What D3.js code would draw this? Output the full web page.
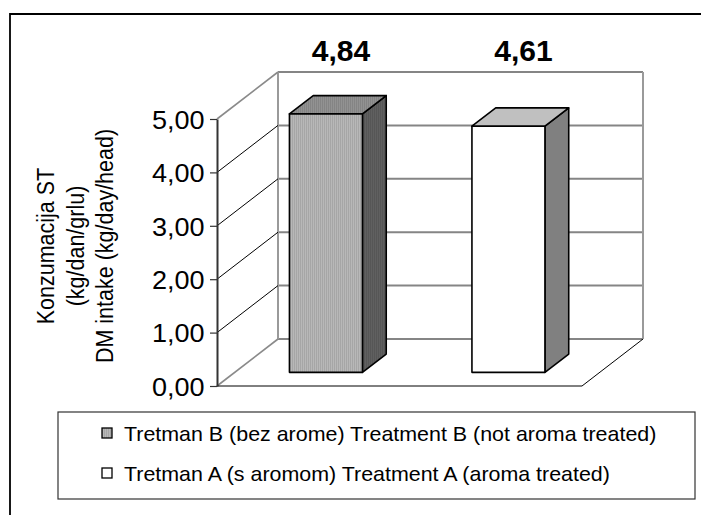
<!DOCTYPE html>
<html>
<head>
<meta charset="utf-8">
<script src="https://cdn.jsdelivr.net/npm/d3@7"></script>
<style>
  body { margin: 0; background: #fff; }
  svg { display: block; font-family: "Liberation Sans", Arial, sans-serif; }
</style>
</head>
<body>
<div id="chart"></div>
<script>
(function () {
  "use strict";

  // ── Datos ──────────────────────────────────────────────
  const categories = ["Tretman B (bez arome) Treatment B (not aroma treated)", "Tretman A (s aromom) Treatment A (aroma treated)"];
  const values = [4.84, 4.61];
  const yTicks = [0, 1, 2, 3, 4, 5];
  const yTitle = ["Konzumacija ST", "(kg/dan/grlu)", "DM intake (kg/day/head)"];

  // ── Configuración ──────────────────────────────────────
  const width = 701;
  const height = 515;
  const FRONT = { left: 217, right: 582, bottom: 386, top: 119 };
  const DEPTH = { dx: 61, dy: -47 }; // desplazamiento del plano trasero
  const BAR_Z = [0.29, 0.68];
  const STRETCH = 1.04; // el original tiene el texto algo ensanchado

  const fmt = d3.formatLocale({ decimal: ",", thousands: ".", grouping: [3], currency: ["", ""] }).format(".2f");

  const svg = d3.select("#chart").append("svg").attr("width", width).attr("height", height);

  const defs = svg.append("defs");
  const stripes = (id, base, dark) => {
    const p = defs.append("pattern").attr("id", id).attr("width", 2).attr("height", 4).attr("patternUnits", "userSpaceOnUse");
    p.append("rect").attr("width", 2).attr("height", 4).attr("fill", base);
    p.append("rect").attr("width", 1).attr("height", 4).attr("fill", dark);
  };
  stripes("stripes", "#b8b8b8", "#a6a6a6");
  stripes("stripes-top", "#929292", "#848484");
  stripes("stripes-side", "#606060", "#565656");

  const barStyles = [
    { front: "url(#stripes)", top: "url(#stripes-top)", side: "url(#stripes-side)" },
    { front: "#ffffff", top: "#c0c0c0", side: "#808080" },
  ];

  // Escalas
  const y = d3.scaleLinear().domain([0, 5]).range([FRONT.bottom, FRONT.top]);
  const x = d3.scaleBand().domain(categories).range([FRONT.left, FRONT.right]).paddingInner(0.6).paddingOuter(0.3);

  // proyección oblicua: x frontal, valor, profundidad z (0 = frente, 1 = fondo)
  const P = (px, v, z) => [px + z * DEPTH.dx, y(v) + z * DEPTH.dy];
  const poly = (pts) => "M" + pts.map((p) => p.join(",")).join("L") + "Z";

  // Marco exterior
  svg.append("path").attr("d", `M10,${height + 5}V14H${width + 5}`).attr("fill", "none").attr("stroke", "#000").attr("stroke-width", 1.8);

  // ── Paredes y rejilla ─────────────────────────────────
  const gGrid = svg.append("g");

  // pared del fondo
  gGrid
    .selectAll(".back")
    .data(yTicks)
    .join("line")
    .attr("x1", (d) => P(FRONT.left, d, 1)[0])
    .attr("y1", (d) => P(FRONT.left, d, 1)[1])
    .attr("x2", (d) => P(FRONT.right, d, 1)[0])
    .attr("y2", (d) => P(FRONT.right, d, 1)[1])
    .attr("stroke", "#858585")
    .attr("stroke-width", 2);

  [FRONT.left, FRONT.right].forEach((px) => {
    gGrid
      .append("line")
      .attr("x1", P(px, 0, 1)[0])
      .attr("y1", P(px, 0, 1)[1])
      .attr("x2", P(px, 5, 1)[0])
      .attr("y2", P(px, 5, 1)[1])
      .attr("stroke", "#9a9a9a")
      .attr("stroke-width", 2);
  });

  // pared izquierda (diagonales)
  gGrid
    .selectAll(".side")
    .data(yTicks)
    .join("line")
    .attr("x1", (d) => P(FRONT.left, d, 0)[0])
    .attr("y1", (d) => P(FRONT.left, d, 0)[1])
    .attr("x2", (d) => P(FRONT.left, d, 1)[0])
    .attr("y2", (d) => P(FRONT.left, d, 1)[1])
    .attr("stroke", (d) => (d === 0 || d === 5 ? "#8a8a8a" : "#000"))
    .attr("stroke-width", (d) => (d === 0 || d === 5 ? 1.6 : 1));

  // suelo
  gGrid
    .append("path")
    .attr("d", `M${P(FRONT.left, 0, 0)}L${P(FRONT.right, 0, 0)}L${P(FRONT.right, 0, 1)}`)
    .attr("fill", "none")
    .attr("stroke", "#000")
    .attr("stroke-width", 1);

  // ── Barras ────────────────────────────────────────────
  const gBars = svg.append("g");
  categories.forEach((c, i) => {
    const x0 = x(c);
    const x1 = x0 + x.bandwidth();
    const v = values[i];
    const [z0, z1] = BAR_Z;
    const st = barStyles[i];
    const face = (pts, fill) =>
      gBars.append("path").attr("d", poly(pts)).attr("fill", fill).attr("stroke", "#000").attr("stroke-width", 1.6).attr("stroke-linejoin", "round");

    face([P(x1, 0, z0), P(x1, v, z0), P(x1, v, z1), P(x1, 0, z1)], st.side);
    face([P(x0, v, z0), P(x1, v, z0), P(x1, v, z1), P(x0, v, z1)], st.top);
    face([P(x0, 0, z0), P(x1, 0, z0), P(x1, v, z0), P(x0, v, z0)], st.front);

    // etiqueta del valor
    const cx = x0 + x.bandwidth() / 2 + ((z0 + z1) / 2 + 0.05) * DEPTH.dx;
    svg
      .append("text")
      .attr("transform", `translate(${cx},61)`)
      .attr("text-anchor", "middle")
      .attr("font-size", "30px")
      .attr("font-weight", "bold")
      .text(fmt(v));
  });

  // ── Eje Y ─────────────────────────────────────────────
  const gY = svg
    .append("g")
    .attr("transform", `translate(${FRONT.left},0)`)
    .call(d3.axisLeft(y).tickValues(yTicks).tickFormat(fmt).tickSizeInner(7).tickSizeOuter(0).tickPadding(5));
  gY.select(".domain").attr("stroke", "#333").attr("stroke-width", 2);
  gY.selectAll(".tick line").attr("stroke", "#333").attr("stroke-width", 1.2);
  gY.selectAll(".tick text")
    .attr("font-size", "26px")
    .attr("font-family", "Liberation Sans, Arial, sans-serif")
    .attr("fill", "#000")
    .attr("x", -12.5 / STRETCH)
    .attr("dy", "0.36em")
    .attr("transform", `scale(${STRETCH},1)`);

  // título del eje Y (tres líneas giradas)
  defs.append("clipPath").attr("id", "title-clip").append("rect").attr("x", 0).attr("y", 129).attr("width", 200).attr("height", 300);
  const gTitle = svg.append("g").attr("clip-path", "url(#title-clip)");
  yTitle.forEach((t, i) => {
    gTitle
      .append("text")
      .attr("transform", `translate(${54 + i * 29.5},246) scale(1.15,1) rotate(-90)`)
      .attr("text-anchor", "middle")
      .attr("font-size", "21.5px")
      .text(t);
  });

  // ── Leyenda ───────────────────────────────────────────
  const gLeg = svg.append("g");
  gLeg.append("rect").attr("x", 58).attr("y", 412).attr("width", 637).attr("height", 87).attr("fill", "#fff").attr("stroke", "#333").attr("stroke-width", 1.2);
  categories.forEach((c, i) => {
    const cy = 433 + i * 40;
    gLeg.append("rect").attr("x", 102).attr("y", cy - 5).attr("width", 10).attr("height", 10).attr("fill", barStyles[i].front).attr("stroke", "#000").attr("stroke-width", 1.3);
    gLeg
      .append("text")
      .attr("transform", `translate(124,${cy + 7.5}) scale(1.02,1)`)
      .attr("font-size", "21px")
      .text(c);
  });
})();
</script>
</body>
</html>
